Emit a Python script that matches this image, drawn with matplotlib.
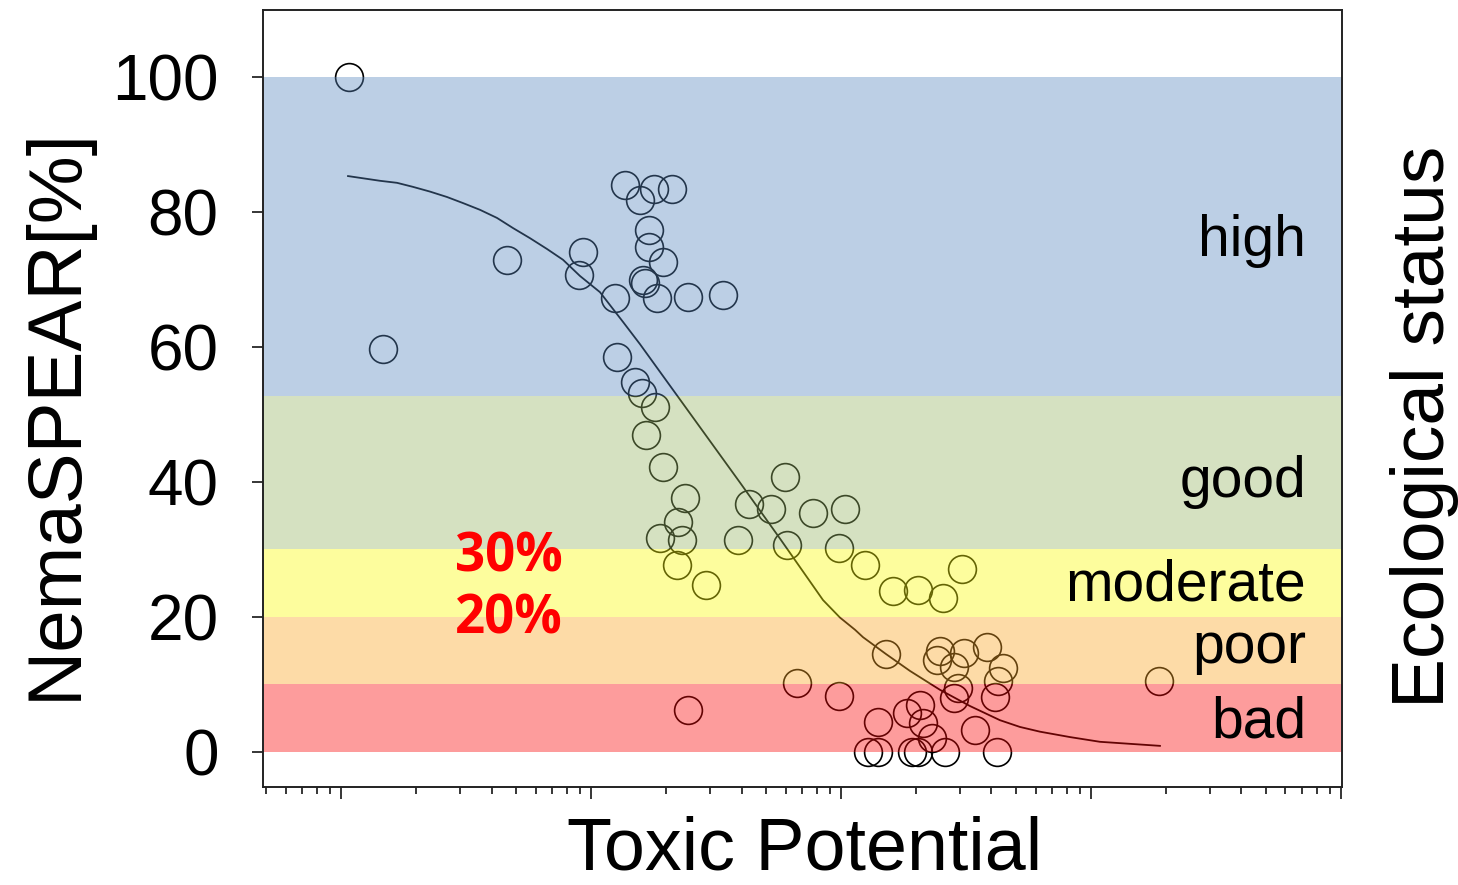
#! /usr/bin/env python

import numpy as np
import matplotlib
matplotlib.use("Agg")
import matplotlib.pyplot as plt
import matplotlib.transforms as mtransforms
from matplotlib.ticker import LogLocator, NullFormatter

plt.rcParams["font.family"] = ["Liberation Sans", "DejaVu Sans"]
plt.rcParams["xtick.major.width"] = "1.1"
plt.rcParams["xtick.major.size"] = "8.5"
plt.rcParams["xtick.minor.width"] = "1.1"
plt.rcParams["xtick.minor.size"] = "5"
plt.rcParams["ytick.major.width"] = "1.1"
plt.rcParams["ytick.major.size"] = "8"

# sampling sites: log10(toxic potential) and NemaSPEAR [%]
log_tp = [-3.968, -3.832, -3.336, -3.032, -3.048, -2.904, -2.864, -2.804, -2.748, -2.676,
          -2.768, -2.768, -2.712, -2.792, -2.784, -2.736, -2.612, -2.472, -2.896, -2.824,
          -2.796, -2.744, -2.780, -2.712, -2.624, -2.652, -2.636, -2.724, -2.656, -2.540,
          -2.412, -2.368, -2.280, -2.224, -2.216, -2.112, -1.984, -2.008, -1.904, -1.792,
          -1.692, -1.592, -1.516, -1.820, -2.176, -2.008, -2.612, -0.728, -1.604, -1.616,
          -1.508, -1.416, -1.548, -1.352, -1.372, -1.532, -1.548, -1.384, -1.684, -1.736,
          -1.852, -1.672, -1.636, -1.464, -1.892, -1.852, -1.716, -1.692, -1.584, -1.376]
nemaspear = [100.0, 59.7, 72.9, 74.1, 70.7, 67.3, 84.0, 81.8, 83.4, 83.4,
             77.3, 74.8, 72.6, 69.9, 69.5, 67.3, 67.4, 67.7, 58.5, 54.8,
             53.2, 51.1, 47.0, 42.2, 37.6, 34.0, 31.4, 31.7, 27.7, 24.7,
             31.4, 36.7, 36.0, 40.7, 30.6, 35.4, 36.0, 30.2, 27.7, 23.8,
             24.0, 22.8, 27.1, 14.5, 10.2, 8.3, 6.2, 10.5, 15.0, 13.6,
             14.7, 15.6, 12.6, 12.4, 10.5, 9.5, 8.0, 8.1, 7.0, 5.8,
             4.4, 4.3, 2.1, 3.3, 0.0, 0.0, 0.0, 0.0, 0.0, 0.0]

# fitted curve
fit_log_tp = [-3.972, -3.844, -3.776, -3.712, -3.644, -3.576, -3.512, -3.444, -3.376, -3.312,
              -3.244, -3.176, -3.112, -3.044, -2.964, -2.872, -2.804, -2.724, -2.564, -2.404,
              -2.244, -2.072, -2.004, -1.944, -1.912, -1.820, -1.724, -1.604, -1.484, -1.364,
              -1.284, -1.204, -1.084, -0.964, -0.844, -0.724]
fit_y = [85.3, 84.6, 84.3, 83.7, 83.0, 82.2, 81.3, 80.3, 79.1, 77.6,
         76.1, 74.5, 72.9, 70.5, 68.1, 63.7, 60.4, 56.3, 48.1, 39.9,
         31.6, 22.5, 19.9, 18.1, 17.0, 14.5, 12.0, 9.2, 6.8, 4.7,
         3.7, 3.0, 2.2, 1.5, 1.2, 0.9]

# ecological status classes
status = ["bad", "poor", "moderate", "good", "high"]
bounds = [0, 10, 20, 30, 52.7, 100]
band_colors = ["#fa0808", "#faa525", "#fcfc0c", "#98b666", "#5887be"]
label_y = [2.1, 13.2, 22.5, 37.8, 73.5]

fig = plt.figure(figsize=(14.58, 8.85), dpi=100)
ax = fig.add_axes([0.1804, 0.1107, 0.7400, 0.8780])

ax.plot(10 ** np.array(log_tp), nemaspear, 'o', ms=20, mfc='none', mec='k', mew=1.2, zorder=2)
ax.plot(10 ** np.array(fit_log_tp), fit_y, '-', color='k', lw=1.3,
        solid_joinstyle='round', zorder=2)

# bands lie over the points like a transparent overlay
for lo, hi, c in zip(bounds[:-1], bounds[1:], band_colors):
    ax.axhspan(lo, hi, color=c, alpha=0.4, lw=0, zorder=3)

trans = mtransforms.blended_transform_factory(ax.transAxes, ax.transData)
for s, y in zip(status, label_y):
    ax.text(0.9667, y, s, transform=trans, ha='right', va='baseline', fontsize=41, zorder=4)

ax.text(0.228, 26.7, "30%", transform=trans, ha='center', va='baseline', fontsize=38,
        fontweight='bold', color='#ff0000', family='Open Sans', zorder=4)
ax.text(0.228, 17.6, "20%", transform=trans, ha='center', va='baseline', fontsize=38,
        fontweight='bold', color='#ff0000', family='Open Sans', zorder=4)

ax.set_xscale('log')
ax.set_xlim(10 ** -4.312, 10 ** 0.004)
ax.set_ylim(-5.2, 109.9)
ax.xaxis.set_major_locator(LogLocator(base=10, numticks=10))
ax.xaxis.set_minor_locator(LogLocator(base=10, subs=np.arange(2, 10), numticks=20))
ax.xaxis.set_major_formatter(NullFormatter())
ax.xaxis.set_minor_formatter(NullFormatter())
ax.set_yticks([0, 20, 40, 60, 80, 100])
ax.tick_params(axis='y', labelsize=46, pad=24, direction='out')
ax.tick_params(axis='x', which='both', direction='out')

for sp in ax.spines.values():
    sp.set_linewidth(1.4)
    sp.set_color('#222222')
    sp.set_zorder(5)

fig.text(76 / 1458, 1 - 413 / 885, "NemaSPEAR[%]", rotation=90, rotation_mode='anchor',
         ha='center', va='baseline', fontsize=55)
fig.text(1444 / 1458, 1 - 427 / 885, "Ecological status", rotation=90, rotation_mode='anchor',
         ha='center', va='baseline', fontsize=54)
fig.text(805 / 1458, 1 - 870 / 885, "Toxic Potential", ha='center', va='baseline', fontsize=53)

plt.savefig("out.png", dpi=100)
